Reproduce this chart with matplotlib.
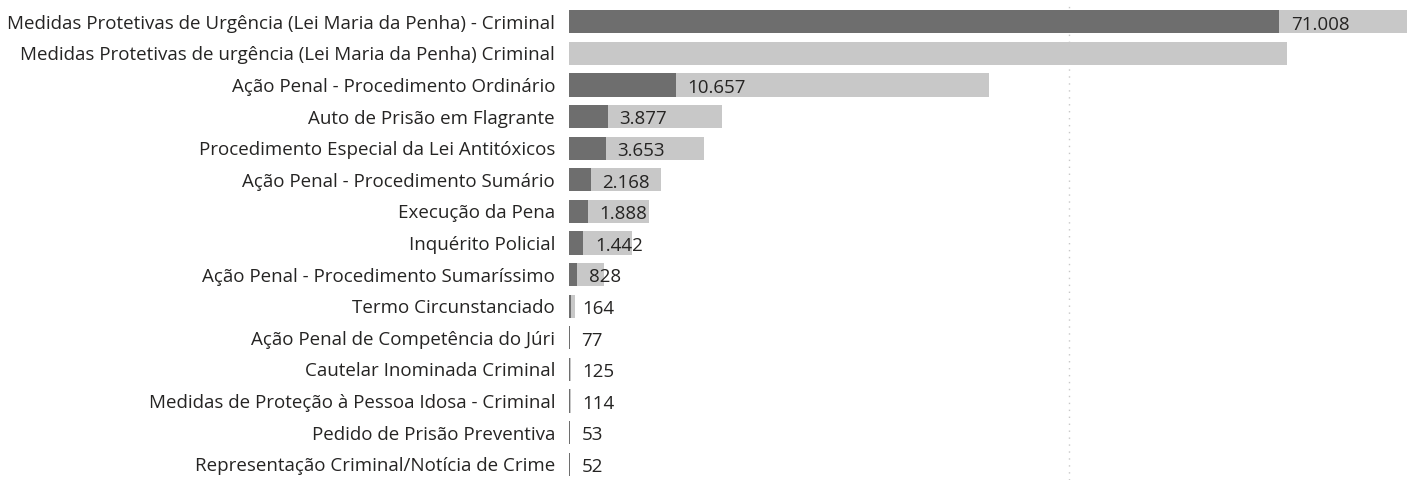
import matplotlib
matplotlib.use("Agg")
import matplotlib.pyplot as plt

categories = [
    "Medidas Protetivas de Urgência (Lei Maria da Penha) - Criminal",
    "Medidas Protetivas de urgência (Lei Maria da Penha) Criminal",
    "Ação Penal - Procedimento Ordinário",
    "Auto de Prisão em Flagrante",
    "Procedimento Especial da Lei Antitóxicos",
    "Ação Penal - Procedimento Sumário",
    "Execução da Pena",
    "Inquérito Policial",
    "Ação Penal - Procedimento Sumaríssimo",
    "Termo Circunstanciado",
    "Ação Penal de Competência do Júri",
    "Cautelar Inominada Criminal",
    "Medidas de Proteção à Pessoa Idosa - Criminal",
    "Pedido de Prisão Preventiva",
    "Representação Criminal/Notícia de Crime",
]
values = [71008, 0, 10657, 3877, 3653, 2168, 1888, 1442, 828, 164, 77, 125, 114, 53, 52]
totals = [83800, 71800, 42000, 15300, 13500, 9200, 8000, 6300, 3500, 600, 120, 180, 150, 90, 80]
value_labels = ["71.008", "", "10.657", "3.877", "3.653", "2.168", "1.888", "1.442", "828",
                "164", "77", "125", "114", "53", "52"]

plt.rcParams['font.family'] = ['Open Sans', 'DejaVu Sans']
fig = plt.figure(figsize=(14.15, 4.8), dpi=100)
ax = fig.add_axes([569/1415, 0.0, (1407-569)/1415, 1-6/480])

y = list(range(len(categories)))
ax.axvline(50000, color="#C8C8C8", linestyle=(0, (1, 4)), linewidth=1, zorder=0)
ax.barh(y, totals, height=0.73, color="#C8C8C8", zorder=1)
ax.barh(y, values, height=0.73, color="#6E6E6E", zorder=2)

for yi, v, lab in zip(y, values, value_labels):
    if lab:
        ax.annotate(lab, (v, yi), xytext=(8.5, -2), textcoords="offset points",
                    va="center", ha="left", fontsize=13.5, color="#252423", zorder=3)

ax.set_xlim(0, 83800)
ax.set_ylim(len(categories) - 0.5, -0.5)
ax.set_yticks(y)
ax.set_yticklabels(categories, fontsize=13.5, color="#252423")
ax.tick_params(axis="y", length=0, pad=10)
ax.set_xticks([])
for s in ax.spines.values():
    s.set_visible(False)

fig.savefig("out.png", dpi=100)
